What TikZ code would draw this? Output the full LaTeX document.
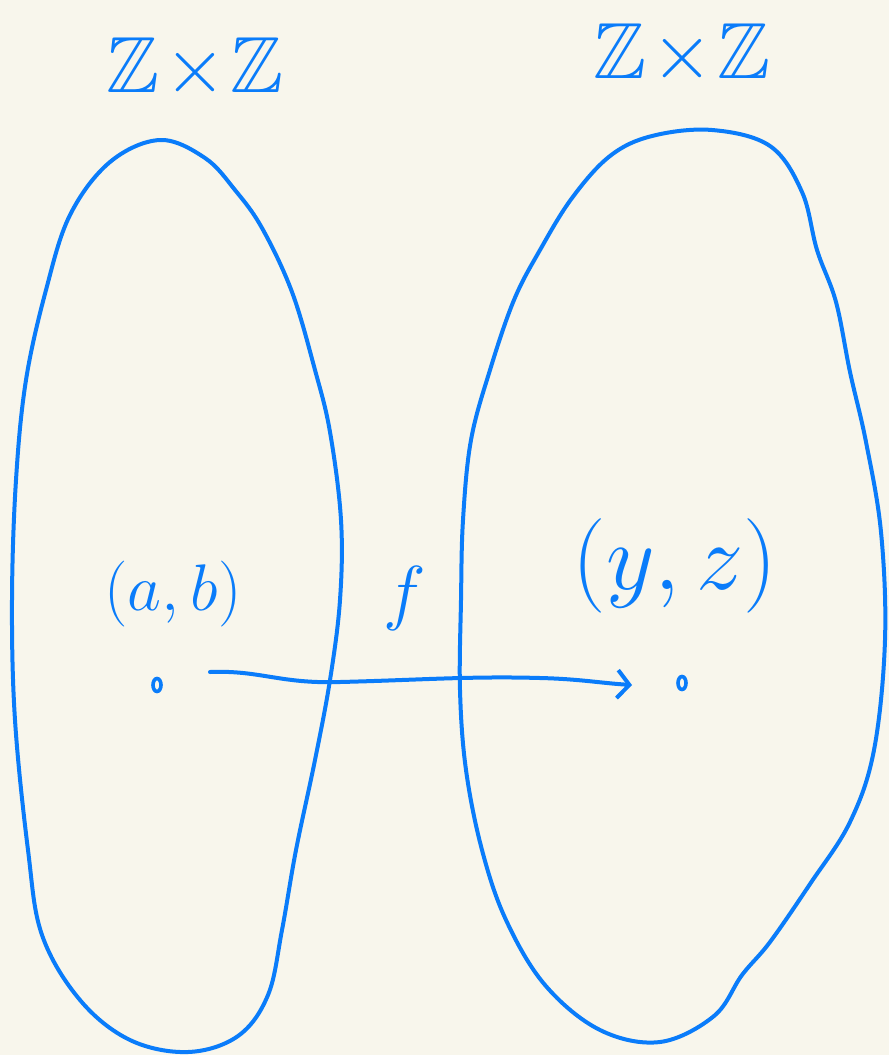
\documentclass[tikz,border=0pt]{standalone}
\usepackage{amssymb}
\usetikzlibrary{arrows.meta,shapes.geometric}
\definecolor{bg}{HTML}{F8F6EC}
\definecolor{ink}{HTML}{0A7CFA}
\tikzset{
  pen/.style={draw=ink, line width=4pt, line cap=round, line join=round},
  lbl/.style={text=ink, inner sep=0pt, font=\Huge},
  dot/.style={draw=ink, line width=3.6pt, ellipse, minimum width=8pt, minimum height=13pt, inner sep=0pt},
}
\begin{document}
\begin{tikzpicture}[x=1pt,y=-1pt]
\fill[bg] (0,0) rectangle (889,1055);
\useasboundingbox (0,0) rectangle (889,1055);
% left blob
\draw[pen] plot[smooth cycle, tension=0.6] coordinates {
 (160,140) (205,158) (235,190) (262,228) (292,292) (315,370) (330,432)
 (341,520) (340,600) (330,680) (315,760) (296,850) (282,930) (268,995)
 (238,1036) (188,1052) (130,1040) (80,1000) (42,935) (28,850) (15,720)
 (12,600) (16,480) (26,380) (46,290) (70,215) (110,162)};
% right blob
\draw[pen] plot[smooth cycle, tension=0.6] coordinates {
 (712,130) (770,146) (802,192) (817,250) (836,302) (850,372) (866,442)
 (881,532) (885,640) (874,750) (850,822) (810,884) (770,942) (742,975)
 (714,1016) (660,1042) (600,1030) (545,985) (506,920) (482,850) (466,770)
 (460,690) (461,600) (463,520) (471,440) (490,370) (514,300) (540,250)
 (572,198) (610,156) (652,136)};
% labels
\node[lbl, scale=3.2] (L) at (195,68) {$\mathbb{Z}\!\times\!\mathbb{Z}$};
\node[lbl, scale=3.2] (R) at (682,54) {$\mathbb{Z}\!\times\!\mathbb{Z}$};
\node[lbl, scale=2.65] (ab) at (173,594) {$(a,b)$};
\node[lbl, scale=2.9] (f) at (405,598) {$f$};
\node[lbl, scale=3.8] (yz) at (675,566) {$(y,z)$};
% points
\node[dot] (p) at (157,685) {};
\node[dot] (q) at (682,683) {};
% arrow
\coordinate (s) at (210,672);
\coordinate (e) at (632,685);
\draw[pen, -{Straight Barb[length=12pt,width=28pt,line width=4pt]}]
  (s) .. controls (260,670) and (280,684) .. (340,682)
      .. controls (420,680) and (470,676) .. (540,678)
      .. controls (580,679) and (600,683) .. (e);
\end{tikzpicture}
\end{document}
